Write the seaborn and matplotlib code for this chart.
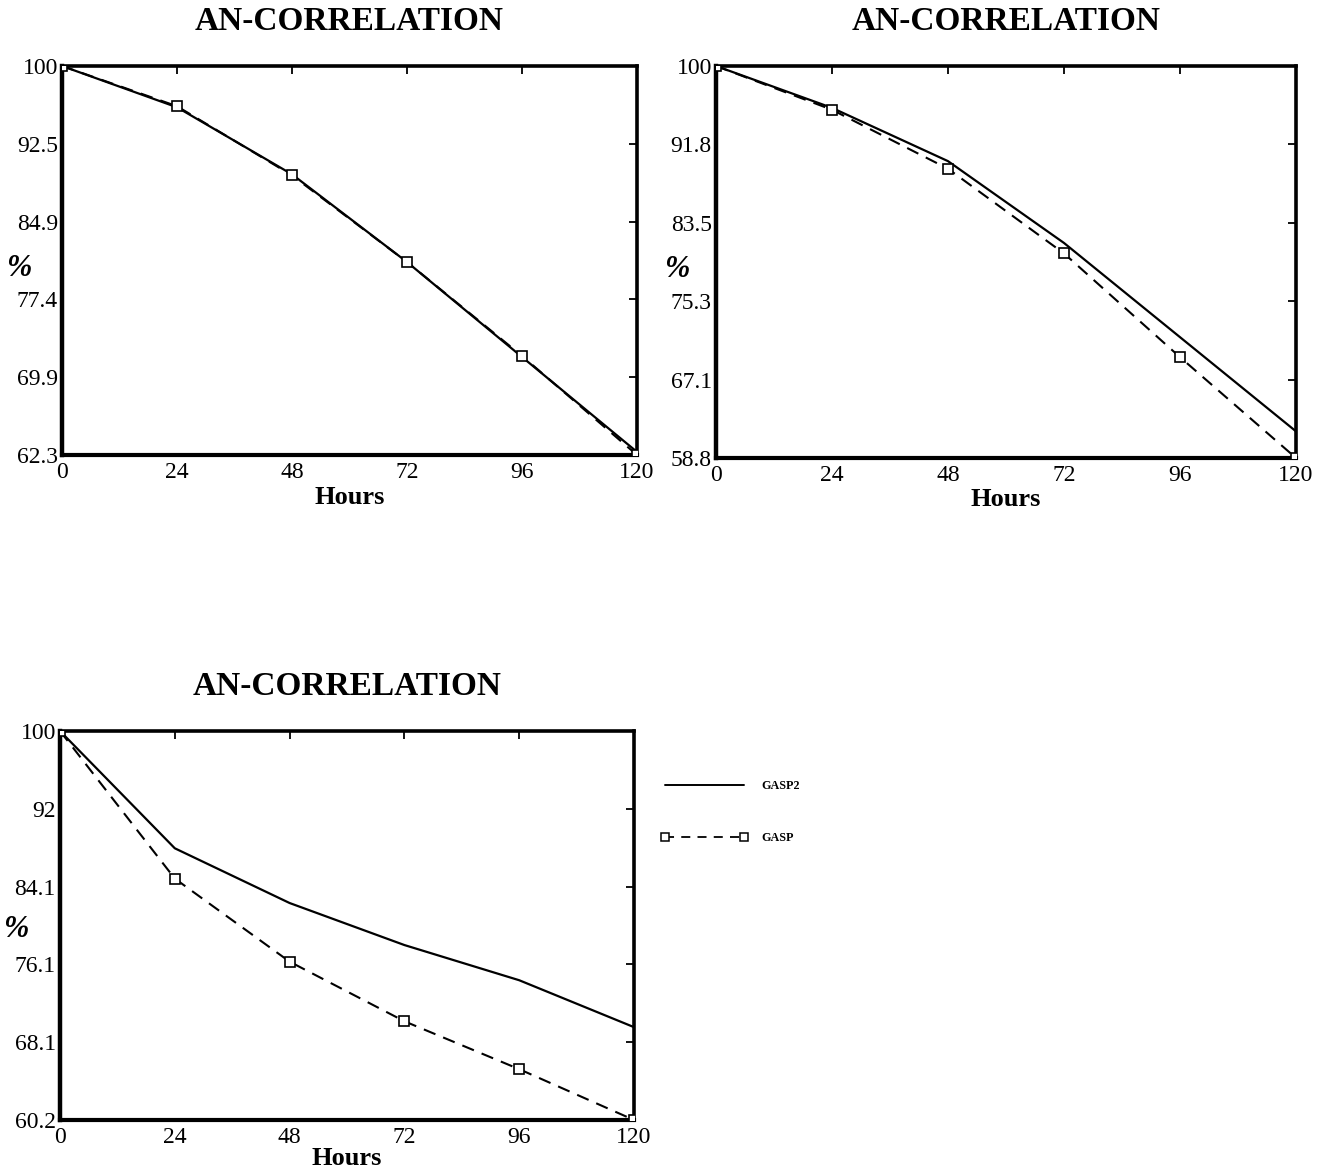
import matplotlib
matplotlib.use("Agg")
import matplotlib.pyplot as plt
import seaborn as sns
import pandas as pd
from matplotlib.lines import Line2D

# Forecast lead time (hours)
hours = [0, 24, 48, 72, 96, 120]

# Anomaly correlation (%) for each panel
p1_gasp2 = [100, 96.0, 89.5, 81.0, 71.8, 62.6]
p1_gasp = [100, 96.1, 89.4, 81.0, 71.9, 62.3]

p2_gasp2 = [100, 95.6, 90.0, 81.4, 71.5, 61.6]
p2_gasp = [100, 95.4, 89.2, 80.3, 69.4, 58.8]

p3_gasp2 = [100, 88.0, 82.4, 78.1, 74.5, 69.7]
p3_gasp = [100, 84.9, 76.4, 70.3, 65.4, 60.2]

# Y-axis ranges and tick labels
p1_ylim = (62.3, 100)
p1_yticks = ["62.3", "69.9", "77.4", "84.9", "92.5", "100"]
p2_ylim = (58.8, 100)
p2_yticks = ["58.8", "67.1", "75.3", "83.5", "91.8", "100"]
p3_ylim = (60.2, 100)
p3_yticks = ["60.2", "68.1", "76.1", "84.1", "92", "100"]

xticks = [0, 24, 48, 72, 96, 120]
title = "AN-CORRELATION"
series_names = ["GASP2", "GASP"]

sns.set_theme(style="white")
plt.rcParams["font.family"] = ["Liberation Serif", "DejaVu Serif"]
plt.rcParams["text.color"] = "black"
plt.rcParams["axes.labelcolor"] = "black"

W, H = 1324, 1171
fig = plt.figure(figsize=(W / 100, H / 100), dpi=100)

# (left px, top px, right px, bottom px), series, y-range, y labels, xlabel offset, ylabel coords
panels = [
    ((62, 66, 637, 455), p1_gasp2, p1_gasp, p1_ylim, p1_yticks, -0.108, (-0.075, 0.48)),
    ((716, 66, 1296, 458), p2_gasp2, p2_gasp, p2_ylim, p2_yticks, -0.105, (-0.067, 0.48)),
    ((60, 731, 634, 1120), p3_gasp2, p3_gasp, p3_ylim, p3_yticks, -0.098, (-0.077, 0.49)),
]

for (x0, y0, x1, y1), g2, g1, ylim, ylabels, xlab_y, ylab_xy in panels:
    ax = fig.add_axes([x0 / W, 1 - y1 / H, (x1 - x0) / W, (y1 - y0) / H])

    df = pd.DataFrame({"Hours": hours * 2,
                       "value": g2 + g1,
                       "series": [series_names[0]] * len(hours) + [series_names[1]] * len(hours)})
    sns.lineplot(data=df[df.series == series_names[0]], x="Hours", y="value", ax=ax,
                 color="black", linewidth=1.6, legend=False)
    sns.lineplot(data=df[df.series == series_names[1]], x="Hours", y="value", ax=ax,
                 color="black", linewidth=1.5, linestyle=(0, (6, 4)),
                 marker="s", markersize=7, markerfacecolor="white",
                 markeredgecolor="black", markeredgewidth=1.2, legend=False,
                 zorder=5)

    ax.set_xlim(0, 120)
    ax.set_ylim(*ylim)
    ax.set_xticks(xticks)
    ax.set_xticklabels([str(t) for t in xticks])
    ticks = [ylim[0] + i * (ylim[1] - ylim[0]) / 5 for i in range(6)]
    ax.set_yticks(ticks)
    ax.set_yticklabels(ylabels)
    ax.tick_params(direction="in", length=6, width=1.3, top=True, right=True,
                   labelsize=17, colors="black")
    ax.tick_params(axis="x", pad=5)
    ax.tick_params(axis="y", pad=3)
    for s in ax.spines.values():
        s.set_color("black")
        s.set_linewidth(2.6)
    ax.spines["left"].set_linewidth(3.2)
    ax.spines["bottom"].set_linewidth(3.0)

    ax.set_xlabel("Hours", fontsize=19, fontweight="bold")
    ax.xaxis.set_label_coords(0.5, xlab_y)
    ax.xaxis.label.set_va("center")
    ax.set_ylabel("%", fontsize=22, fontweight="bold", style="italic", rotation=0)
    ax.yaxis.set_label_coords(*ylab_xy)
    ax.yaxis.label.set_va("center")
    ax.yaxis.label.set_ha("center")
    ax.set_title(title, fontsize=24, fontweight="bold", pad=26)

handles = [
    Line2D([], [], color="black", linewidth=1.4),
    Line2D([], [], color="black", linewidth=1.3, linestyle=(0, (5, 4)),
           marker="s", markersize=6, markerfacecolor="white",
           markeredgecolor="black", markeredgewidth=1.1),
]
fig.legend(handles, series_names, loc="upper left",
           bbox_to_anchor=(650 / W, 1 - 769 / H), frameon=False,
           prop={"family": "Liberation Serif", "weight": "bold", "size": 8.7},
           handlelength=7.2, handletextpad=1.1, labelspacing=3.3, numpoints=2)

fig.savefig("out.png", dpi=100, facecolor="white")
